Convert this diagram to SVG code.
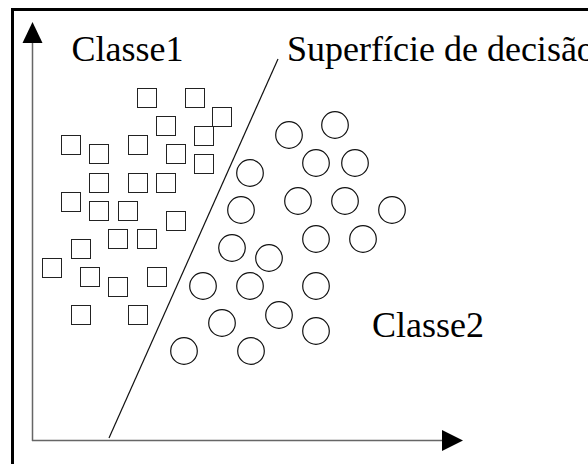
<svg xmlns="http://www.w3.org/2000/svg" width="588" height="464" viewBox="0 0 588 464">
<defs>
<style>
.frame{fill:none;stroke:#000;stroke-width:3}
.axis{fill:none;stroke:#666;stroke-width:1.5}
.head{fill:#000;stroke:none}
.sep{fill:none;stroke:#111;stroke-width:1.2}
.sq{fill:#fff;stroke:#222;stroke-width:1}
.ci{fill:#fff;stroke:#111;stroke-width:1.2}
.lbl{font-family:"Liberation Serif","Times New Roman",serif;font-size:36px;fill:#000}
</style>
</defs>
<rect width="588" height="464" fill="#fff"/>
<path class="frame" d="M12.5,464 V9.5 H588"/>
<g id="connectors">
<path class="axis" d="M32.5,441 V42"/>
<path class="head" d="M32.5,22 L22.5,43 L42.5,43 Z"/>
<path class="axis" d="M32,440.5 H443"/>
<path class="head" d="M463,440.5 L442,430 L442,451 Z"/>
<path class="sep" d="M278,59 L109,438"/>
</g>
<g id="classe1-points" transform="translate(0.5,0.5)">
<rect class="sq" x="137" y="88" width="19" height="19"/>
<rect class="sq" x="185" y="88" width="19" height="19"/>
<rect class="sq" x="212" y="107" width="19" height="19"/>
<rect class="sq" x="156" y="116" width="19" height="19"/>
<rect class="sq" x="194" y="126" width="19" height="19"/>
<rect class="sq" x="61" y="135" width="19" height="19"/>
<rect class="sq" x="89" y="144" width="19" height="19"/>
<rect class="sq" x="128" y="135" width="19" height="19"/>
<rect class="sq" x="166" y="144" width="19" height="19"/>
<rect class="sq" x="194" y="154" width="19" height="19"/>
<rect class="sq" x="89" y="173" width="19" height="19"/>
<rect class="sq" x="128" y="173" width="19" height="19"/>
<rect class="sq" x="156" y="173" width="19" height="19"/>
<rect class="sq" x="61" y="192" width="19" height="19"/>
<rect class="sq" x="89" y="201" width="19" height="19"/>
<rect class="sq" x="118" y="201" width="19" height="19"/>
<rect class="sq" x="166" y="211" width="19" height="19"/>
<rect class="sq" x="108" y="229" width="19" height="19"/>
<rect class="sq" x="137" y="229" width="19" height="19"/>
<rect class="sq" x="71" y="239" width="19" height="19"/>
<rect class="sq" x="42" y="258" width="19" height="19"/>
<rect class="sq" x="80" y="267" width="19" height="19"/>
<rect class="sq" x="108" y="277" width="19" height="19"/>
<rect class="sq" x="147" y="267" width="19" height="19"/>
<rect class="sq" x="71" y="305" width="19" height="19"/>
<rect class="sq" x="128" y="305" width="19" height="19"/>
</g>
<g id="classe2-points">
<circle class="ci" cx="289" cy="135" r="13.3"/>
<circle class="ci" cx="335" cy="125" r="13.3"/>
<circle class="ci" cx="316" cy="163" r="13.3"/>
<circle class="ci" cx="355" cy="163" r="13.3"/>
<circle class="ci" cx="250" cy="173" r="13.3"/>
<circle class="ci" cx="298" cy="201" r="13.3"/>
<circle class="ci" cx="345" cy="201" r="13.3"/>
<circle class="ci" cx="392" cy="210" r="13.3"/>
<circle class="ci" cx="241" cy="210" r="13.3"/>
<circle class="ci" cx="316" cy="239" r="13.3"/>
<circle class="ci" cx="363" cy="239" r="13.3"/>
<circle class="ci" cx="232" cy="248" r="13.3"/>
<circle class="ci" cx="269" cy="258" r="13.3"/>
<circle class="ci" cx="203" cy="286" r="13.3"/>
<circle class="ci" cx="250" cy="286" r="13.3"/>
<circle class="ci" cx="316" cy="286" r="13.3"/>
<circle class="ci" cx="279" cy="315" r="13.3"/>
<circle class="ci" cx="222" cy="323" r="13.3"/>
<circle class="ci" cx="316" cy="331" r="13.3"/>
<circle class="ci" cx="184" cy="351" r="13.3"/>
<circle class="ci" cx="251" cy="351" r="13.3"/>
</g>
<g id="label-classe1"><text class="lbl" x="71.5" y="61">Classe1</text></g>
<g id="label-superficie"><text class="lbl" x="287" y="61">Superfície de decisão</text></g>
<g id="label-classe2"><text class="lbl" x="372" y="337">Classe2</text></g>
</svg>
